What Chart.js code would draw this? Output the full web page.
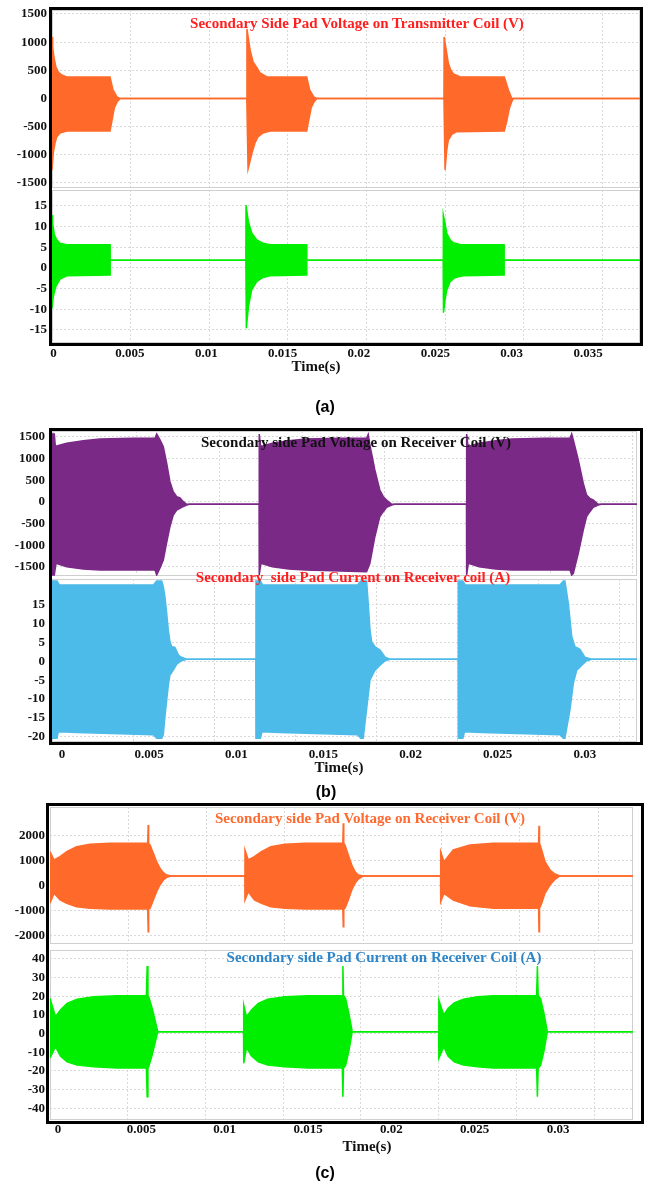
<!DOCTYPE html>
<html lang="en">
<head>
<meta charset="UTF-8" />
<title>Secondary side pad voltage and current</title>
<script src="https://cdn.jsdelivr.net/npm/chart.js"></script>
<style>
  body { margin: 0; background: #fff; }
  #page { position: relative; width: 650px; height: 1188px; overflow: hidden; font-family: "Liberation Serif", "Times New Roman", serif; }
  #page canvas { position: absolute; left: 0; }
  .frame { position: absolute; box-sizing: border-box; border: 3px solid #000; pointer-events: none; }
  .txt { position: absolute; width: 500px; text-align: center; font-weight: bold; white-space: pre; line-height: 18px; font-size: 15px; }
  .cap { font-family: "Liberation Sans", Arial, sans-serif; font-size: 16px; color: #000; }
</style>
</head>
<body>
<div id="page"></div>

<script>
// ---- tick labels ----
const timeTicks = [0, 0.005, 0.01, 0.015, 0.02, 0.025, 0.03, 0.035];
const timeTickText = ['0', '0.005', '0.01', '0.015', '0.02', '0.025', '0.03', '0.035'];
const aVoltTicks = [1500, 1000, 500, 0, -500, -1000, -1500];
const aCurTicks = [15, 10, 5, 0, -5, -10, -15];
const bVoltTicks = [1500, 1000, 500, 0, -500, -1000, -1500];
const bCurTicks = [15, 10, 5, 0, -5, -10, -15, -20];
const cVoltTicks = [2000, 1000, 0, -1000, -2000];
const cCurTicks = [40, 30, 20, 10, 0, -10, -20, -30, -40];

// ---- envelopes of the oscillating waveforms, [time (s), value] ----
// (a) transmitter coil voltage (V)
const aVoltUpper = [
  [0,1092],[0.00004,914],[0.00013,719],[0.00025,559],[0.0004,470],[0.00062,417],[0.00094,382],[0.00369,382],[0.00388,151],[0.00413,27],[0.00433,0],
  [0.01239,0],[0.0124,1234],[0.0126,861],[0.01279,648],[0.01304,541],[0.01323,453],[0.01368,382],[0.0162,382],[0.01639,151],[0.01665,27],[0.01684,0],
  [0.02493,0],[0.02494,1092],[0.02511,802],[0.02521,625],[0.02536,506],[0.02553,435],[0.02595,387],[0.02877,382],[0.02903,151],[0.02924,4],[0.02935,0],
  [0.0375,0]
];
const aVoltLower = [
  [0,-1269],[0.00008,-967],[0.00019,-790],[0.0003,-683],[0.00051,-612],[0.00094,-577],[0.00369,-577],[0.0038,-417],[0.00396,-169],[0.00415,-57],[0.00433,0],
  [0.01239,0],[0.01247,-1252],[0.01272,-967],[0.01291,-790],[0.0131,-683],[0.01342,-612],[0.01387,-577],[0.0162,-577],[0.01631,-417],[0.01648,-169],[0.01667,-57],[0.01684,0],
  [0.02493,0],[0.025,-1269],[0.02511,-914],[0.02521,-737],[0.02543,-636],[0.02574,-589],[0.02877,-577],[0.02892,-412],[0.02909,-174],[0.02924,-57],[0.02935,0],
  [0.0375,0]
];
// (a) transmitter coil current
const aCurUpper = [
  [0,12.8],[0.00004,10.8],[0.00015,8.0],[0.0003,6.8],[0.00051,6.0],[0.00094,5.6],[0.00369,5.6],[0.0037,1.9],
  [0.01233,1.9],[0.01234,15.2],[0.01249,11.2],[0.0127,8.5],[0.01302,6.8],[0.01342,6.0],[0.01387,5.6],[0.0162,5.6],[0.01621,1.9],
  [0.02488,1.9],[0.02489,12.8],[0.025,10.8],[0.02511,8.4],[0.02532,6.8],[0.02553,6.1],[0.02595,5.7],[0.02875,5.6],[0.02876,1.9],
  [0.0375,1.9]
];
const aCurLower = [
  [0,-9.8],[0.00008,-6.9],[0.00024,-4.5],[0.00051,-2.7],[0.00094,-1.9],[0.00369,-1.7],[0.0037,1.9],
  [0.01233,1.9],[0.01236,-14.6],[0.01249,-9.4],[0.0127,-5.3],[0.01302,-3.3],[0.01342,-2.3],[0.01387,-1.9],[0.0162,-1.7],[0.01621,1.9],
  [0.02488,1.9],[0.0249,-10.8],[0.025,-7.7],[0.02511,-5.3],[0.02532,-3.3],[0.02564,-2.3],[0.02616,-1.9],[0.02875,-1.7],[0.02876,1.9],
  [0.0375,1.9]
];
// (b) receiver coil voltage (V)
const bVoltUpper = [
  [-0.00012,1569],[0.00002,1569],[0.00008,1292],[0.00016,1292],[0.00077,1355],[0.00177,1415],[0.00278,1454],[0.00479,1470],[0.00611,1470],[0.00621,1569],[0.00641,1431],[0.00661,1276],[0.00681,900],[0.00701,468],[0.00721,238],[0.00742,122],[0.00762,92],[0.00782,7],[0.00802,-55],
  [0.0124,-55],[0.01241,1569],[0.01249,1292],[0.01262,1292],[0.0132,1355],[0.0142,1415],[0.0152,1454],[0.0172,1470],[0.0189,1470],[0.019,1560],[0.0191,1315],[0.0194,738],[0.0197,277],[0.01991,122],[0.02011,46],[0.02042,-55],
  [0.02494,-55],[0.02495,1569],[0.02503,1292],[0.02515,1292],[0.0257,1355],[0.0267,1415],[0.0277,1454],[0.0297,1470],[0.0312,1470],[0.0313,1569],[0.0314,1431],[0.0317,969],[0.032,432],[0.0322,162],[0.0324,85],[0.0326,46],[0.0329,-55],
  [0.0354,-55]
];
const bVoltLower = [
  [-0.00012,-1685],[0.00002,-1685],[0.00012,-1415],[0.00077,-1493],[0.00177,-1546],[0.00278,-1569],[0.00611,-1569],[0.00621,-1685],[0.00641,-1523],[0.00661,-1338],[0.00681,-946],[0.00701,-570],[0.00721,-300],[0.00742,-185],[0.00772,-122],[0.00802,-69],[0.0082,-55],
  [0.0124,-55],[0.01241,-1685],[0.01251,-1415],[0.0132,-1493],[0.0142,-1546],[0.0152,-1569],[0.0189,-1609],[0.0191,-1415],[0.0194,-801],[0.0197,-339],[0.01991,-224],[0.02011,-122],[0.02042,-69],[0.0206,-55],
  [0.02494,-55],[0.02495,-1685],[0.02505,-1415],[0.0257,-1493],[0.0267,-1546],[0.0277,-1569],[0.0312,-1569],[0.0313,-1685],[0.0314,-1645],[0.0317,-1184],[0.032,-646],[0.0322,-339],[0.0324,-224],[0.0326,-122],[0.0329,-69],[0.0331,-55],
  [0.0354,-55]
];
// (b) receiver coil current (A)
const bCurUpper = [
  [-0.00006,21.4],[0.00025,21.4],[0.0004,20.3],[0.0062,20.3],[0.0064,21.4],[0.00671,21.4],[0.00681,19.85],[0.00691,17.2],[0.00702,12.8],[0.00712,8.3],[0.00722,5.2],[0.00733,3.9],[0.00753,3.75],[0.00774,1.7],[0.00794,1.1],[0.00825,0.6],
  [0.01252,0.6],[0.01253,21.4],[0.0128,21.4],[0.01295,20.3],[0.0188,20.3],[0.019,21.4],[0.01936,21.4],[0.01946,15.4],[0.01957,8.3],[0.01967,5.2],[0.01988,3.9],[0.02019,3.0],[0.0205,1.1],[0.0208,0.6],
  [0.02501,0.6],[0.02502,21.4],[0.0253,21.4],[0.02545,20.3],[0.0313,20.3],[0.0315,21.4],[0.0316,21.4],[0.03181,15.4],[0.03202,6.6],[0.03222,3.9],[0.03253,3.2],[0.03284,1.1],[0.03325,0.6],
  [0.0362,0.6]
];
const bCurLower = [
  [-0.00006,-20.4],[0.00025,-20.4],[0.00033,-18.7],[0.0015,-18.9],[0.0062,-19.5],[0.0064,-20.4],[0.00671,-20.4],[0.00681,-19.5],[0.00691,-14.7],[0.00702,-10.3],[0.00712,-6.3],[0.00722,-3.6],[0.00743,-2.3],[0.00764,-0.7],[0.00794,0.2],[0.00825,0.6],
  [0.01252,0.6],[0.01253,-20.4],[0.0128,-20.4],[0.0129,-18.7],[0.014,-18.9],[0.0188,-19.5],[0.019,-20.4],[0.01915,-20.4],[0.01957,-4.9],[0.01988,-2.3],[0.02019,-1.0],[0.0205,0.2],[0.0208,0.6],
  [0.02501,0.6],[0.02502,-20.4],[0.0253,-20.4],[0.0254,-18.7],[0.0265,-18.9],[0.0313,-19.5],[0.0315,-20.4],[0.0316,-20.4],[0.03191,-12.9],[0.03212,-5.8],[0.03233,-2.3],[0.03264,-1.0],[0.03294,0.2],[0.03325,0.6],
  [0.0362,0.6]
];
// (c) receiver coil voltage (V)
const cVoltUpper = [
  [0,1360],[0.00026,1028],[0.00064,1160],[0.00107,1360],[0.0017,1560],[0.00255,1656],[0.00383,1696],[0.00624,1696],[0.00627,2428],[0.0063,1680],[0.00639,1628],[0.0066,1296],[0.00681,960],[0.00702,696],[0.00724,520],[0.00745,428],[0.00777,390],
  [0.01244,390],[0.01245,1428],[0.01266,1028],[0.01305,1160],[0.0135,1360],[0.0141,1560],[0.015,1656],[0.0163,1696],[0.0187,1696],[0.01873,2496],[0.01876,1696],[0.01884,1628],[0.01905,1228],[0.01927,828],[0.01948,560],[0.01969,428],[0.02001,390],
  [0.02494,390],[0.02495,1360],[0.02516,960],[0.02575,1428],[0.02682,1628],[0.02831,1696],[0.0312,1696],[0.03123,2400],[0.03126,1696],[0.0314,1428],[0.03161,960],[0.03193,628],[0.03225,468],[0.03257,390],
  [0.0374,390]
];
const cVoltLower = [
  [0,-704],[0.00026,-304],[0.00064,-572],[0.00107,-704],[0.0017,-840],[0.00255,-904],[0.00383,-932],[0.00624,-932],[0.00627,-1840],[0.0063,-920],[0.00639,-904],[0.0066,-572],[0.00681,-240],[0.00702,28],[0.00724,228],[0.00745,336],[0.00777,390],
  [0.01244,390],[0.01245,-572],[0.01266,-240],[0.01305,-572],[0.0135,-704],[0.0141,-840],[0.015,-904],[0.0163,-932],[0.0187,-932],[0.01873,-1640],[0.01876,-932],[0.01884,-904],[0.01905,-572],[0.01927,-172],[0.01948,96],[0.01969,268],[0.02001,390],
  [0.02494,390],[0.02495,-640],[0.02516,-304],[0.02575,-572],[0.02682,-800],[0.02831,-904],[0.0312,-904],[0.03123,-1840],[0.03126,-904],[0.0314,-704],[0.03161,-304],[0.03193,28],[0.03225,256],[0.03257,390],
  [0.0374,390]
];
// (c) receiver coil current (A)
const cCurUpper = [
  [0,18.9],[0.00035,9.1],[0.00067,12.6],[0.0011,16.2],[0.00174,18.4],[0.00281,19.8],[0.00432,20.3],[0.0062,20.3],[0.00625,36.2],[0.0063,20.3],[0.00635,19.8],[0.00657,13.6],[0.00678,6.4],[0.00693,1.0],
  [0.01245,1.0],[0.01246,15.3],[0.01264,9.1],[0.01296,12.6],[0.0134,16.2],[0.014,18.4],[0.0151,19.8],[0.0166,20.3],[0.0188,20.3],[0.01884,36.2],[0.01888,20.3],[0.01901,18.9],[0.01922,10.9],[0.01944,1.0],
  [0.025,1.0],[0.02501,18.0],[0.02533,10.0],[0.0256,13.5],[0.026,16.5],[0.0266,18.4],[0.0275,19.8],[0.0285,20.3],[0.0313,20.3],[0.03135,36.2],[0.0314,20.3],[0.03155,18.9],[0.03177,10.9],[0.03199,1.0],
  [0.0376,1.0]
];
const cCurLower = [
  [0,-13.2],[0.00035,-7.0],[0.00067,-12.0],[0.0011,-15.1],[0.00174,-16.8],[0.00281,-17.7],[0.00432,-18.4],[0.0062,-18.4],[0.00625,-33.8],[0.0063,-18.4],[0.00635,-17.7],[0.00657,-11.5],[0.00678,-4.3],[0.00693,1.0],
  [0.01245,1.0],[0.01246,-15.9],[0.01264,-7.5],[0.01296,-12.0],[0.0134,-15.1],[0.014,-16.8],[0.0151,-17.7],[0.0166,-18.4],[0.0188,-18.4],[0.01884,-33.8],[0.01888,-18.4],[0.01901,-17.2],[0.01922,-9.5],[0.01944,1.0],
  [0.025,1.0],[0.02501,-13.2],[0.02533,-7.0],[0.0256,-12.0],[0.026,-15.1],[0.0266,-16.8],[0.0275,-17.7],[0.0285,-18.4],[0.0313,-18.4],[0.03135,-33.8],[0.0314,-18.4],[0.03155,-17.2],[0.03177,-9.5],[0.03199,1.0],
  [0.0376,1.0]
];

// ---- layout of the six sub plots (plot box = [left, top, right, bottom] in page px) ----
const plots = [
  { upper: aVoltUpper, lower: aVoltLower, color: '#ff6a2b', yTicks: aVoltTicks, yMin: -1589, yMax: 1571,
    xMin: 0, xMax: 0.0374, box: [52, 10, 640, 188], yPad: 5 },
  { upper: aCurUpper, lower: aCurLower, color: '#00ee00', yTicks: aCurTicks, yMin: -18.15, yMax: 18.87,
    xMin: 0, xMax: 0.0374, box: [52, 190, 640, 343], yPad: 5, xl: { min: -0.0001, max: 0.0384, pad: 3 } },
  { upper: bVoltUpper, lower: bVoltLower, color: '#7b2987', yTicks: bVoltTicks, yMin: -1708, yMax: 1638,
    xMin: -0.00012, xMax: 0.03525, box: [52, 431, 637, 576], yPad: 7 },
  { upper: bCurUpper, lower: bCurLower, color: '#4dbbe9', yTicks: bCurTicks, yMin: -21.4, yMax: 21.9,
    xMin: -0.00006, xMax: 0.03605, box: [52, 579, 637, 742], yPad: 7, xl: { min: -0.00057, max: 0.03299, pad: 5 } },
  { upper: cVoltUpper, lower: cVoltLower, color: '#ff6a2b', yTicks: cVoltTicks, yMin: -2332, yMax: 3148,
    xMin: 0, xMax: 0.03723, box: [50, 807, 633, 944], yPad: 5 },
  { upper: cCurUpper, lower: cCurLower, color: '#00ee00', yTicks: cCurTicks, yMin: -46.3, yMax: 44.8,
    xMin: 0, xMax: 0.0375, box: [50, 950, 633, 1120], yPad: 5, xl: { min: -0.00048, max: 0.0345, pad: 2 } }
];

const frames = [[49, 7, 594, 339], [49, 428, 594, 317], [46, 803, 598, 321]];

const texts = [
  { t: 'Secondary Side Pad Voltage on Transmitter Coil (V)', x: 357, y: 23, c: '#ff1f1f' },
  { t: 'Secondary side Pad Voltage on Receiver Coil (V)', x: 356, y: 442, c: '#111' },
  { t: 'Secondary  side Pad Current on Receiver coil (A)', x: 353, y: 577, c: '#ff1f1f' },
  { t: 'Secondary side Pad Voltage on Receiver Coil (V)', x: 370, y: 818, c: '#ff6a30' },
  { t: 'Secondary side Pad Current on Receiver Coil (A)', x: 384, y: 957, c: '#2e86c8' },
  { t: 'Time(s)', x: 316, y: 366, c: '#111' },
  { t: 'Time(s)', x: 339, y: 767, c: '#111' },
  { t: 'Time(s)', x: 367, y: 1146, c: '#111' },
  { t: '(a)', x: 325, y: 407, c: '#000', cap: true },
  { t: '(b)', x: 326, y: 792, c: '#000', cap: true },
  { t: '(c)', x: 325, y: 1173, c: '#000', cap: true }
];

const page = document.getElementById('page');
const gridColor = '#d9d9d9';
const tickFont = { family: 'Liberation Serif', weight: 'bold', size: 13 };

// thin grey border round each plot area
const areaBox = {
  id: 'areaBox',
  beforeDatasetsDraw(chart) {
    const { ctx, chartArea: a } = chart;
    ctx.save();
    ctx.strokeStyle = '#cfcfcf';
    ctx.lineWidth = 1;
    ctx.strokeRect(a.left + 0.5, a.top + 0.5, a.width - 1, a.height - 1);
    ctx.restore();
  }
};

function timeTicksIn(s) {
  s.ticks = timeTicks.filter(v => v >= s.min && v <= s.max).map(v => ({ value: v }));
}

function build(p) {
  const [L, T, R, B] = p.box;
  const padTop = 8, padBot = p.xl ? 0 : 8, labelH = 26;
  const cv = document.createElement('canvas');
  cv.width = R + 2;
  cv.height = (B - T) + padTop + (p.xl ? labelH : padBot);
  cv.style.top = (T - padTop) + 'px';
  page.appendChild(cv);

  const toXY = arr => arr.map(d => ({ x: d[0], y: d[1] }));

  const scales = {
    x: {
      type: 'linear', position: 'bottom', min: p.xMin, max: p.xMax, bounds: 'data',
      ticks: { display: false },
      grid: { color: gridColor, drawTicks: false },
      border: { display: false, dash: [2, 2] },
      afterBuildTicks: timeTicksIn,
      afterFit: s => { s.height = 0; s.paddingLeft = 0; s.paddingRight = 0; }
    },
    y: {
      type: 'linear', position: 'left', min: p.yMin, max: p.yMax, bounds: 'data',
      ticks: { font: tickFont, color: '#111', padding: p.yPad, callback: v => String(v) },
      grid: { color: gridColor, drawTicks: false },
      border: { display: false, dash: [2, 2] },
      afterBuildTicks: s => { s.ticks = p.yTicks.map(v => ({ value: v })); },
      afterFit: s => { s.width = L; s.paddingTop = 0; s.paddingBottom = 0; }
    }
  };
  if (p.xl) {
    scales.xl = {
      type: 'linear', axis: 'x', position: 'bottom', min: p.xl.min, max: p.xl.max, bounds: 'data',
      grid: { display: false, drawTicks: false },
      border: { display: false },
      ticks: {
        font: tickFont, color: '#111', padding: p.xl.pad, autoSkip: false, maxRotation: 0,
        callback: v => timeTickText[timeTicks.indexOf(v)]
      },
      afterBuildTicks: timeTicksIn,
      afterFit: s => { s.height = labelH; s.paddingLeft = 0; s.paddingRight = 0; }
    };
  }

  new Chart(cv, {
    type: 'line',
    data: {
      datasets: [
        { data: toXY(p.upper), xAxisID: 'x', yAxisID: 'y', borderColor: p.color, backgroundColor: p.color,
          fill: '+1', borderWidth: 1.5, pointRadius: 0, tension: 0 },
        { data: toXY(p.lower), xAxisID: 'x', yAxisID: 'y', borderColor: p.color, backgroundColor: p.color,
          fill: false, borderWidth: 1.5, pointRadius: 0, tension: 0 }
      ]
    },
    options: {
      responsive: false,
      animation: false,
      devicePixelRatio: 1,
      layout: { padding: { top: padTop, bottom: padBot, left: 0, right: 2 } },
      plugins: { legend: { display: false }, tooltip: { enabled: false }, title: { display: false } },
      scales: scales
    },
    plugins: [areaBox]
  });
}

plots.forEach(build);

frames.forEach(f => {
  const d = document.createElement('div');
  d.className = 'frame';
  d.style.left = f[0] + 'px';
  d.style.top = f[1] + 'px';
  d.style.width = f[2] + 'px';
  d.style.height = f[3] + 'px';
  page.appendChild(d);
});

texts.forEach(o => {
  const d = document.createElement('div');
  d.className = o.cap ? 'txt cap' : 'txt';
  d.textContent = o.t;
  d.style.left = (o.x - 250) + 'px';
  d.style.top = (o.y - 9) + 'px';
  d.style.color = o.c;
  page.appendChild(d);
});
</script>
</body>
</html>
